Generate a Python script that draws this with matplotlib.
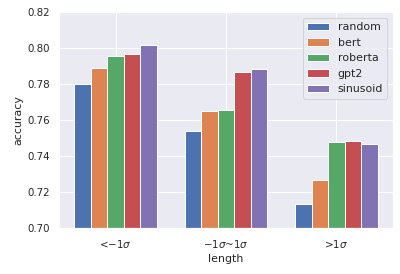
import matplotlib
matplotlib.use("Agg")
import matplotlib.pyplot as plt
import numpy as np
import seaborn as sns

categories = [r"<$-1\sigma$", r"$-1\sigma$~$1\sigma$", r">$1\sigma$"]
series_names = ["random", "bert", "roberta", "gpt2", "sinusoid"]
random_vals = [0.7802, 0.7541, 0.7135]
bert_vals = [0.7890, 0.7652, 0.7268]
roberta_vals = [0.7957, 0.7657, 0.7479]
gpt2_vals = [0.7968, 0.7869, 0.7485]
sinusoid_vals = [0.8019, 0.7885, 0.7468]

sns.set_theme(style="darkgrid")
plt.rcParams["font.family"] = ["DejaVu Sans"]

fig = plt.figure(figsize=(400 / 72, 274 / 72), dpi=72)
ax = fig.add_axes([59 / 400, 46 / 274, 334 / 400, 215.7 / 274])

colors = sns.color_palette("deep")
width = 0.15
x = np.arange(len(categories))
all_vals = [random_vals, bert_vals, roberta_vals, gpt2_vals, sinusoid_vals]
for j, (name, vals) in enumerate(zip(series_names, all_vals)):
    ax.bar(x + (j - 2) * width, vals, width=width, color=colors[j],
           edgecolor="white", linewidth=1, label=name)

ax.set_ylim(0.70, 0.82)
ax.set_yticks([0.70, 0.72, 0.74, 0.76, 0.78, 0.80, 0.82])
ax.set_xticks(x)
ax.set_xticklabels(categories)
ax.tick_params(axis="both", labelsize=10.3)
ax.set_xlabel("length", fontsize=11)
ax.set_ylabel("accuracy", fontsize=11)
ax.legend(loc="upper right", fontsize=11)

fig.savefig("out.png", dpi=72)
